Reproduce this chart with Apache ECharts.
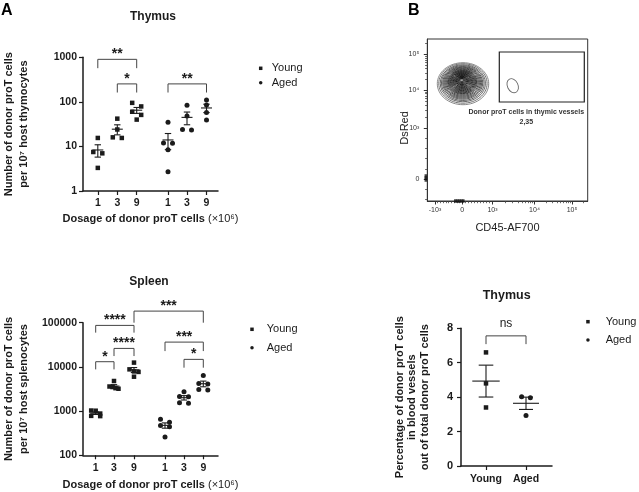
<!DOCTYPE html>
<html><head><meta charset="utf-8">
<script src="https://cdn.jsdelivr.net/npm/echarts@6/dist/echarts.min.js"></script>
<style>html,body{margin:0;padding:0;background:#fff}#c{width:639px;height:492px}</style>
</head><body><div id="c"></div>
<script>
// ================= DATA =================
// Panel A – dose labels (Young 1,3,9 | Aged 1,3,9)
const doseLabels = ['1', '3', '9', '1', '3', '9'];
// Thymus: donor proT cells per 10^7 host thymocytes
const thymusYoung = [[15.5, 7.5, 7, 3.3], [42, 24, 16, 15.5], [95, 79, 60, 51, 40]];
const thymusAged  = [[35, 12, 11.8, 8.4, 2.7], [84, 48, 24, 23.5], [110, 85, 58, 39]];
// brackets: [fromGroup, toGroup, top value, leg-end value, label]
const thymusBrackets = [[0, 2, 900, 570, '**'], [1, 2, 253, 162, '*'], [3, 5, 253, 162, '**']];
// Spleen: donor proT cells per 10^7 host splenocytes
const spleenYoung = [[1030, 1020, 880, 780, 770], [4800, 3600, 3500, 3300, 3200], [12500, 8800, 7900, 7700, 6000]];
const spleenAged  = [[650, 560, 470, 440, 260], [2750, 2150, 2100, 1550, 1500], [6400, 4200, 4100, 3100, 3000]];
const spleenBrackets = [[0, 2, 86900, 59600, '****'], [1, 2, 26200, 17600, '****'], [0, 1, 13100, 8790, '*'],
                        [2, 5, 183000, 100000, '***'], [3, 5, 36400, 22800, '***'], [4, 5, 14800, 9600, '*']];
// Panel B bottom – % donor proT cells in blood vessels
const vesselGroups = ['Young', 'Aged'];
const vesselYoung = [6.6, 4.8, 3.4];
const vesselAged  = [4.03, 3.97, 2.93];
const vesselBrackets = [[0, 1, 7.56, 7.08, 'ns']];
// Panel B top – flow plot (display channels)
const flowXTickValues = [-1000, 0, 1000, 10000, 100000];
const flowXTickLabels = ['-10³', '0', '10³', '10⁴', '10⁵'];
const flowYTickValues = [0, 1000, 10000, 100000];
const flowYTickLabels = ['0', '10³', '10⁴', '10⁵'];
const contourLevels = [1, .94, .88, .83, .78, .74, .70, .66, .62, .58, .55, .52, .49, .46, .43, .40, .37, .34, .31, .28, .25, .22, .19, .16, .13, .10, .07, .04];
const mainPop = [0.7, 95.3, 25.7, 21];      // cx, cy, rx, ry
const mainPopCore = [-0.6, 99];             // density peak
const gatePop = [50.4, 93.3, 5.3, 7.4];     // small population inside gate
const flowGate = [37, 77, 122, 127];        // x1, y1, x2, y2
const gateName = 'Donor proT cells in thymic vessels';
const gateFreq = '2,35';
const edgeEventsX = [-7, -5, -3, -1, 1];
const edgeEventsY = [-1, 1, 3];

// ================= LAYOUT =================
const thymusX = [14.8, 34.3, 53.7, 85, 104, 123.5];
const spleenX = [12.7, 31, 51, 82, 101, 120.3];
const vesselX = [25, 65];
const flowXTickPos = [-27.3, 0, 30.2, 72.2, 109.7];
const flowYTickPos = [0, 50.7, 89, 124.7];
const flowXRange = [-35, 125.4];
const flowYRange = [-22, 140];

const FF = '"Liberation Sans", Arial, Helvetica, sans-serif';
const INK = '#1b1b1b';

// ================= HELPERS =================
function swarmOffsets(values, f, thr, width) {
  const idx = values.map((v, i) => i).sort((a, b) => values[b] - values[a]);
  const rows = []; let cur = null;
  idx.forEach(i => {
    if (cur && f(values[cur[0]]) - f(values[i]) < thr) cur.push(i);
    else { cur = [i]; rows.push(cur); }
  });
  const off = new Array(values.length).fill(0);
  rows.forEach(r => { const n = r.length; r.forEach((i, k) => { off[i] = n > 1 ? -width / 2 + k * width / (n - 1) : 0; }); });
  return off;
}
function pointsData(groups, xs, first, f, thr, width) {
  const out = [];
  groups.forEach((vals, g) => {
    const off = swarmOffsets(vals, f, thr, width);
    vals.forEach((v, i) => out.push([xs[first + g] + off[i], v]));
  });
  return out;
}
function statsData(groups, xs, first) {
  return groups.map((vals, g) => {
    const n = vals.length, m = vals.reduce((a, b) => a + b, 0) / n;
    const sd = Math.sqrt(vals.reduce((a, v) => a + (v - m) * (v - m), 0) / (n - 1));
    const se = sd / Math.sqrt(n);
    return [xs[first + g], m, m - se, m + se];
  });
}
function statsSeries(data, xi, yi, halfMean, halfCap) {
  return {
    type: 'custom', xAxisIndex: xi, yAxisIndex: yi, data, silent: true, clip: false, z: 3,
    encode: { x: 0, y: [1, 2, 3] },
    renderItem(params, api) {
      const x = api.value(0);
      const pm = api.coord([x, api.value(1)]), pl = api.coord([x, api.value(2)]), ph = api.coord([x, api.value(3)]);
      const st = { stroke: INK, lineWidth: 1.1 };
      return { type: 'group', children: [
        { type: 'line', shape: { x1: pm[0] - halfMean, y1: pm[1], x2: pm[0] + halfMean, y2: pm[1] }, style: st },
        { type: 'line', shape: { x1: pl[0], y1: pl[1], x2: ph[0], y2: ph[1] }, style: st },
        { type: 'line', shape: { x1: pl[0] - halfCap, y1: pl[1], x2: pl[0] + halfCap, y2: pl[1] }, style: st },
        { type: 'line', shape: { x1: ph[0] - halfCap, y1: ph[1], x2: ph[0] + halfCap, y2: ph[1] }, style: st }
      ] };
    }
  };
}
function bracketSeries(list, xs, xi, yi) {
  return {
    type: 'custom', xAxisIndex: xi, yAxisIndex: yi, silent: true, clip: false, z: 4,
    encode: { x: [0, 1], y: [2, 3] },
    data: list.map(b => [xs[b[0]], xs[b[1]], b[2], b[3]]),
    renderItem(params, api) {
      const x1 = api.value(0), x2 = api.value(1), top = api.value(2), bot = api.value(3);
      const a = api.coord([x1, bot]), b = api.coord([x1, top]), c = api.coord([x2, top]), d = api.coord([x2, bot]);
      const lbl = list[params.dataIndex][4];
      const star = /^\*+$/.test(lbl);
      return { type: 'group', children: [
        { type: 'polyline', shape: { points: [a, b, c, d] }, style: { stroke: '#444', lineWidth: 1, fill: null } },
        { type: 'text', style: { x: (b[0] + c[0]) / 2, y: b[1] - (star ? 5 : 12), text: lbl, align: 'center', verticalAlign: 'middle',
            fontFamily: FF, fontSize: star ? 14 : 12, fontWeight: star ? 'bold' : 'normal', fill: INK } }
      ] };
    }
  };
}
function nearestLabel(v, xs, labels) {
  let best = 0; xs.forEach((x, i) => { if (Math.abs(x - v) < Math.abs(xs[best] - v)) best = i; });
  return labels[best];
}
function logY(grid, min, max, name) {
  return { type: 'log', logBase: 10, gridIndex: grid, min, max, position: 'left',
    axisLine: { show: true, lineStyle: { color: INK, width: 1.5 } },
    axisTick: { show: true, length: 4, lineStyle: { color: INK, width: 1.2 } },
    axisLabel: { formatter: v => String(Math.round(v)), fontSize: 10.5, fontWeight: 'bold', color: INK, fontFamily: FF, margin: 6 },
    splitLine: { show: false }, minorTick: { show: false },
    name, nameLocation: 'middle', nameRotate: 90, nameGap: 51, nameMoveOverlap: false,
    nameTextStyle: { fontSize: 11, fontWeight: 'bold', color: INK, fontFamily: FF, lineHeight: 15.5, align: 'center' } };
}
function doseAxis(grid, xs, gap) {
  return { type: 'value', gridIndex: grid, min: 0, max: 135, position: 'bottom',
    axisLine: { show: true, onZero: false, lineStyle: { color: INK, width: 1.5 } },
    axisTick: { show: true, customValues: xs, length: 4, lineStyle: { color: INK, width: 1.2 } },
    axisLabel: { customValues: xs, formatter: v => nearestLabel(v, xs, doseLabels), fontSize: 10.5, fontWeight: 'bold', color: INK, fontFamily: FF, margin: 7 },
    splitLine: { show: false },
    name: '{b|Dosage of donor proT cells }{r|(×10⁶)}', nameLocation: 'middle', nameGap: gap, nameMoveOverlap: false,
    nameTextStyle: { color: INK, fontFamily: FF, fontSize: 11, lineHeight: 14,
      rich: { b: { fontWeight: 'bold', fontSize: 11, fontFamily: FF, color: INK }, r: { fontSize: 11, fontFamily: FF, color: INK } } } };
}
// flow display transform for minor ticks
function flowPos(v, vals, pos) {
  const i0 = vals.indexOf(0), i1 = vals.indexOf(1000);
  if (Math.abs(v) <= 1000) {
    if (v >= 0) return pos[i0] + v / 1000 * (pos[i1] - pos[i0]);
    const im = vals.indexOf(-1000);
    const slope = im >= 0 ? (pos[i0] - pos[im]) : (pos[i1] - pos[i0]);
    return pos[i0] + v / 1000 * slope;
  }
  const lv = Math.log10(v);
  const decs = vals.filter(x => x >= 1000);
  for (let k = 0; k < decs.length - 1; k++) {
    if (v >= decs[k] && v <= decs[k + 1]) {
      const a = pos[vals.indexOf(decs[k])], b = pos[vals.indexOf(decs[k + 1])];
      return a + (lv - Math.log10(decs[k])) * (b - a);
    }
  }
  const n = decs.length;
  const a = pos[vals.indexOf(decs[n - 2])], b = pos[vals.indexOf(decs[n - 1])];
  return b + (lv - Math.log10(decs[n - 1])) * (b - a);
}
function flowMinor(vals, pos, linStep, range) {
  const out = [];
  for (let v = -1000; v <= 1000; v += linStep) if (vals.indexOf(v) < 0) out.push(flowPos(v, vals, pos));
  [1000, 10000, 100000].forEach(d => { for (let m = 2; m <= 9; m++) out.push(flowPos(m * d, vals, pos)); });
  return out.filter(p => p > range[0] + 0.5 && p < range[1] - 0.5);
}
function flowAxisCommon(grid, range, isX) {
  return { type: 'value', gridIndex: grid, min: range[0], max: range[1], position: isX ? 'bottom' : 'left',
    splitLine: { show: false }, axisLine: { show: true, onZero: false, lineStyle: { color: '#333', width: 1 } } };
}

const logF = v => Math.log10(v);
const linF = v => v;

// ================= OPTION =================
const xAxes = [
  doseAxis(0, thymusX, 20.5),
  doseAxis(1, spleenX, 22.7),
  Object.assign(flowAxisCommon(2, flowXRange, true), {
    axisTick: { customValues: flowXTickPos, length: 3.5, lineStyle: { color: '#333', width: 1 } },
    axisLabel: { customValues: flowXTickPos, formatter: v => nearestLabel(v, flowXTickPos, flowXTickLabels), fontSize: 7, color: '#333', fontFamily: FF, margin: 5.5 },
    name: 'CD45-AF700', nameLocation: 'middle', nameGap: 20.8, nameMoveOverlap: false,
    nameTextStyle: { fontSize: 11, color: '#222', fontFamily: FF, lineHeight: 13 } }),
  Object.assign(flowAxisCommon(2, flowXRange, true), {
    axisLine: { show: false, onZero: false },
    axisTick: { show: true, customValues: flowMinor(flowXTickValues, flowXTickPos, 100, flowXRange), length: 2.2, lineStyle: { color: '#444', width: 0.8 } },
    axisLabel: { show: false } }),
  { type: 'value', gridIndex: 3, min: 0, max: 91, position: 'bottom',
    axisLine: { show: true, onZero: false, lineStyle: { color: INK, width: 1.5 } },
    axisTick: { show: true, customValues: vesselX, length: 4, lineStyle: { color: INK, width: 1.2 } },
    axisLabel: { customValues: vesselX, formatter: v => nearestLabel(v, vesselX, vesselGroups), fontSize: 10.5, fontWeight: 'bold', color: INK, fontFamily: FF, margin: 8 },
    splitLine: { show: false } }
];
const yAxes = [
  logY(0, 1, 1000, 'Number of donor proT cells\nper 10⁷ host thymocytes'),
  logY(1, 100, 100000, 'Number of donor proT cells\nper 10⁷ host splenocytes'),
  Object.assign(flowAxisCommon(2, flowYRange, false), {
    axisTick: { customValues: flowYTickPos, length: 3.5, lineStyle: { color: '#333', width: 1 } },
    axisLabel: { customValues: flowYTickPos, formatter: v => nearestLabel(v, flowYTickPos, flowYTickLabels), fontSize: 7, color: '#333', fontFamily: FF, margin: 8 },
    name: 'DsRed', nameLocation: 'middle', nameRotate: 90, nameGap: 15.8, nameMoveOverlap: false,
    nameTextStyle: { fontSize: 11, color: '#222', fontFamily: FF, lineHeight: 13, padding: [0, 16, 0, 0] } }),
  Object.assign(flowAxisCommon(2, flowYRange, false), {
    axisLine: { show: false, onZero: false },
    axisTick: { show: true, customValues: flowMinor(flowYTickValues, flowYTickPos, 200, flowYRange), length: 2.2, lineStyle: { color: '#444', width: 0.8 } },
    axisLabel: { show: false } }),
  { type: 'value', gridIndex: 3, min: 0, max: 8, interval: 2, position: 'left',
    axisLine: { show: true, onZero: false, lineStyle: { color: INK, width: 1.5 } },
    axisTick: { show: true, length: 4, lineStyle: { color: INK, width: 1.2 } },
    axisLabel: { fontSize: 11, fontWeight: 'bold', color: INK, fontFamily: FF, margin: 8 },
    splitLine: { show: false },
    name: 'Percentage of donor proT cells\nin blood vessels\nout of total donor proT cells', nameLocation: 'middle', nameRotate: 90, nameGap: 30, nameMoveOverlap: false,
    nameTextStyle: { fontSize: 11, fontWeight: 'bold', color: INK, fontFamily: FF, lineHeight: 12.5, align: 'center' } }
];

function scatter(name, data, xi, yi, symbol, size) {
  return { type: 'scatter', name, data, xAxisIndex: xi, yAxisIndex: yi, symbol, symbolSize: size, silent: true, z: 5,
    itemStyle: { color: INK, opacity: 1 } };
}

const series = [
  // Thymus A
  scatter('Young', pointsData(thymusYoung, thymusX, 0, logF, 0.1, 9), 0, 0, 'rect', 4.5),
  scatter('Aged', pointsData(thymusAged, thymusX, 3, logF, 0.1, 9), 0, 0, 'circle', 5),
  statsSeries(statsData(thymusYoung, thymusX, 0), 0, 0, 5.5, 3.2),
  statsSeries(statsData(thymusAged, thymusX, 3), 0, 0, 5.5, 3.2),
  bracketSeries(thymusBrackets, thymusX, 0, 0),
  // Spleen A
  scatter('Young', pointsData(spleenYoung, spleenX, 0, logF, 0.1, 9), 1, 1, 'rect', 4.5),
  scatter('Aged', pointsData(spleenAged, spleenX, 3, logF, 0.1, 9), 1, 1, 'circle', 5),
  statsSeries(statsData(spleenYoung, spleenX, 0), 1, 1, 5.5, 3.2),
  statsSeries(statsData(spleenAged, spleenX, 3), 1, 1, 5.5, 3.2),
  bracketSeries(spleenBrackets, spleenX, 1, 1),
  // Flow plot: contour rings of the main population
  { type: 'custom', xAxisIndex: 2, yAxisIndex: 2, silent: true, clip: false, z: 2,
    encode: { x: 0, y: 1 },
    data: contourLevels.map(s => [mainPop[0] + (mainPopCore[0] - mainPop[0]) * (1 - s), mainPop[1] + (mainPopCore[1] - mainPop[1]) * (1 - s), mainPop[2] * s, mainPop[3] * s]),
    renderItem(params, api) {
      const c = api.coord([api.value(0), api.value(1)]);
      const sz = api.size([api.value(2), api.value(3)]);
      const last = params.dataIndex === contourLevels.length - 1;
      const t = params.dataIndex / (contourLevels.length - 1);
      const g = Math.round(125 - 125 * Math.pow(t, 0.45));
      return { type: 'ellipse', shape: { cx: c[0], cy: c[1], rx: sz[0], ry: sz[1] },
        style: { fill: last ? '#fff' : null, stroke: 'rgb(' + g + ',' + g + ',' + g + ')', lineWidth: last ? 0.5 : 0.9 } };
    } },
  // gate
  { type: 'custom', xAxisIndex: 2, yAxisIndex: 2, silent: true, clip: false, z: 3,
    encode: { x: [0, 2], y: [1, 3] },
    data: [flowGate],
    renderItem(params, api) {
      const p1 = api.coord([api.value(0), api.value(3)]);
      const p2 = api.coord([api.value(2), api.value(1)]);
      const tx = p2[0] - 58;
      return { type: 'group', children: [
        { type: 'rect', shape: { x: p1[0], y: p1[1], width: p2[0] - p1[0], height: p2[1] - p1[1] }, style: { fill: null, stroke: '#222', lineWidth: 1.2 } },
        { type: 'text', style: { x: tx, y: p2[1] + 10.3, text: gateName, align: 'center', verticalAlign: 'middle', fontFamily: FF, fontSize: 7, fontWeight: 'bold', fill: '#333' } },
        { type: 'text', style: { x: tx, y: p2[1] + 19.7, text: gateFreq, align: 'center', verticalAlign: 'middle', fontFamily: FF, fontSize: 7, fontWeight: 'bold', fill: '#333' } }
      ] };
    } },
  // small gated population
  { type: 'custom', xAxisIndex: 2, yAxisIndex: 2, silent: true, clip: false, z: 3,
    encode: { x: 0, y: 1 },
    data: [gatePop],
    renderItem(params, api) {
      const c = api.coord([api.value(0), api.value(1)]);
      const sz = api.size([api.value(2), api.value(3)]);
      return { type: 'ellipse', x: c[0], y: c[1], rotation: 0.45, shape: { cx: 0, cy: 0, rx: sz[0], ry: sz[1] },
        style: { fill: null, stroke: '#666', lineWidth: 0.9 } };
    } },
  // events piled on the axes
  { type: 'scatter', xAxisIndex: 2, yAxisIndex: 2, silent: true, clip: false, symbol: 'rect', symbolSize: [2.5, 3.5], z: 4,
    itemStyle: { color: '#111' },
    data: edgeEventsX.map(x => [x, flowYRange[0]]).concat(edgeEventsY.map(y => [flowXRange[0] - 1.5, y])) },
  // Vessels B
  scatter('Young', pointsData([vesselYoung], vesselX, 0, linF, 0.3, 8.7), 4, 4, 'rect', 4.5),
  scatter('Aged', pointsData([vesselAged], vesselX, 1, linF, 0.3, 8.7), 4, 4, 'circle', 5),
  statsSeries(statsData([vesselYoung], vesselX, 0), 4, 4, 13.7, 7.3),
  statsSeries(statsData([vesselAged], vesselX, 1), 4, 4, 13, 7),
  bracketSeries(vesselBrackets, vesselX, 4, 4)
];

function legendAt(left, top, gap, textPad) {
  return { orient: 'vertical', left, top, padding: 0, itemGap: gap, itemWidth: 3.5, itemHeight: 3.5, selectedMode: false,
    textStyle: { fontSize: 11, color: INK, fontFamily: FF, lineHeight: 12, padding: [0, 0, 0, textPad] },
    data: [{ name: 'Young', icon: 'rect' }, { name: 'Aged', icon: 'circle' }] };
}
function titleAt(text, cx, cy, size) {
  return { text, left: cx, top: cy - size / 2, textAlign: 'center', padding: 0,
    textStyle: { fontSize: size, fontWeight: 'bold', color: INK, fontFamily: FF, lineHeight: size } };
}

const option = {
  animation: false,
  backgroundColor: '#fff',
  title: [
    { text: 'A', left: 1, top: 3, padding: 0, textStyle: { fontSize: 16, fontWeight: 'bold', color: '#000', fontFamily: FF, lineHeight: 16 } },
    { text: 'B', left: 408, top: 3, padding: 0, textStyle: { fontSize: 16, fontWeight: 'bold', color: '#000', fontFamily: FF, lineHeight: 16 } },
    titleAt('Thymus', 153, 16.7, 12),
    titleAt('Spleen', 149, 281.7, 12),
    titleAt('Thymus', 506.7, 296, 12.5)
  ],
  legend: [legendAt(258.95, 62.3, 2.4, 4.25), legendAt(250.25, 323.3, 6.4, 7.95), legendAt(586.2, 315.7, 6.3, 10.95)],
  grid: [
    { left: 83, top: 57.3, width: 135, height: 133.7, containLabel: false, outerBoundsMode: 'none' },
    { left: 83, top: 322.7, width: 135, height: 132.6, containLabel: false, outerBoundsMode: 'none' },
    { left: 427.3, top: 39, width: 160.4, height: 162, containLabel: false, outerBoundsMode: 'none', show: true, borderColor: '#333', borderWidth: 1, backgroundColor: 'transparent' },
    { left: 461, top: 328.3, width: 91, height: 137.7, containLabel: false, outerBoundsMode: 'none' }
  ],
  xAxis: xAxes,
  yAxis: yAxes,
  series
};
const chart = echarts.init(document.getElementById('c'));
chart.setOption(option);
</script></body></html>
